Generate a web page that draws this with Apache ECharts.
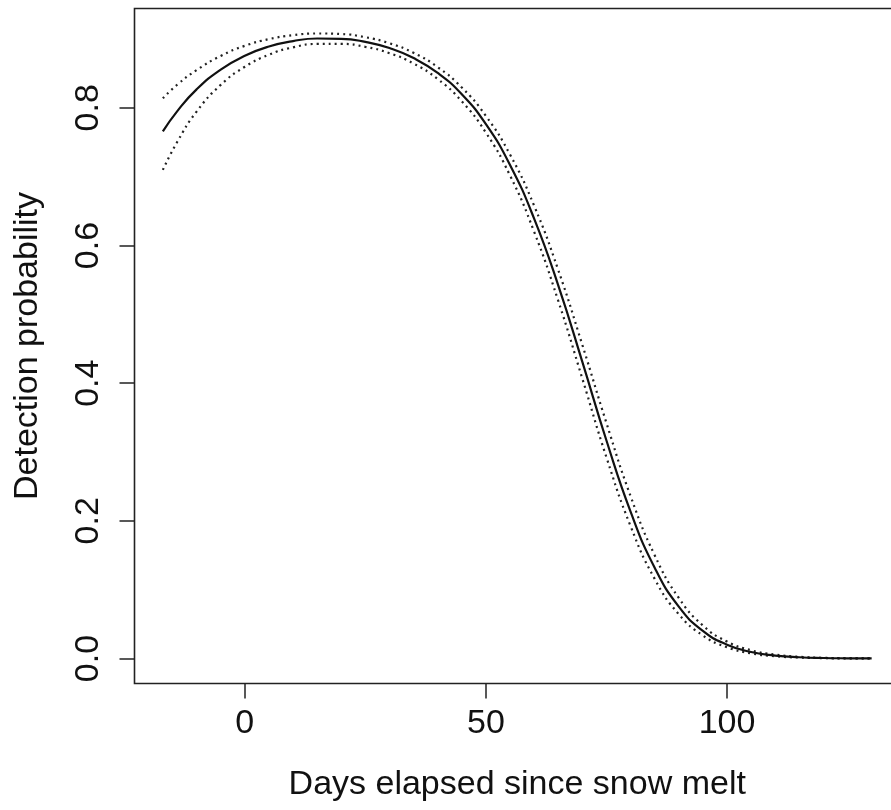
<!DOCTYPE html>
<html>
<head>
<meta charset="utf-8">
<script src="https://cdn.jsdelivr.net/npm/echarts@6/dist/echarts.min.js"></script>
<style>
  html, body { margin: 0; padding: 0; background: #ffffff; overflow: hidden; }
  #chart { width: 891px; height: 810px; }
</style>
</head>
<body>
<div id="chart"></div>
<script>
// Days elapsed since snow melt
var days = [-17, -14, -10, -5, 0, 5, 10, 15, 20, 25, 30, 35, 40, 45, 50, 55, 60, 65, 70, 75, 80, 85, 90, 95, 100, 105, 110, 115, 120, 125, 130];
// Estimated detection probability (solid line)
var detection = [0.7658, 0.7953, 0.8268, 0.8556, 0.8757, 0.8891, 0.8970, 0.9007, 0.9003, 0.8958, 0.8868, 0.8723, 0.8507, 0.8197, 0.7763, 0.7171, 0.6391, 0.5421, 0.4310, 0.3167, 0.2134, 0.1319, 0.0753, 0.0401, 0.0201, 0.0095, 0.0043, 0.00185, 0.00076, 0.0003, 0.00011];
// Upper confidence limit (dotted)
var upper = [0.8138, 0.8337, 0.8548, 0.8754, 0.8901, 0.8998, 0.9055, 0.9080, 0.9072, 0.9026, 0.8938, 0.8799, 0.8591, 0.8295, 0.7882, 0.7321, 0.6578, 0.5644, 0.4556, 0.3421, 0.2360, 0.1501, 0.0880, 0.0480, 0.0246, 0.0120, 0.0056, 0.0025, 0.0010, 0.0004, 0.00016];
// Lower confidence limit (dotted)
var lower = [0.7099, 0.7507, 0.7946, 0.8333, 0.8596, 0.8771, 0.8879, 0.8928, 0.8929, 0.8886, 0.8794, 0.8643, 0.8418, 0.8094, 0.7639, 0.7017, 0.6200, 0.5197, 0.4066, 0.2923, 0.1924, 0.1157, 0.0643, 0.0334, 0.0163, 0.0075, 0.0033, 0.0014, 0.00056, 0.00021, 0.00008];
// Tick labels
var xTicks = [0, 50, 100];
var yTicks = [0, 0.2, 0.4, 0.6, 0.8];

function pairs(ys) { return days.map(function (d, i) { return [d, ys[i]]; }); }

var FONT = 'Liberation Sans, Arial, Helvetica, sans-serif';
var INK = '#111111';

var chart = echarts.init(document.getElementById('chart'), null, { renderer: 'canvas' });
chart.setOption({
  animation: false,
  backgroundColor: '#ffffff',
  grid: {
    left: 134.5, top: 8.5, width: 765.5, height: 675,
    show: true, borderColor: '#222222', borderWidth: 1.6,
    backgroundColor: 'transparent',
    containLabel: false, outerBoundsMode: 'none'
  },
  xAxis: {
    type: 'value', min: -22.88, max: 135.88,
    name: 'Days elapsed since snow melt', nameLocation: 'middle', nameGap: 84,
    nameTextStyle: { fontFamily: FONT, fontSize: 34, color: INK },
    axisLine: { show: false, onZero: false },
    splitLine: { show: false },
    axisTick: { show: true, inside: false, length: 15, customValues: xTicks, lineStyle: { color: '#222222', width: 1.5 } },
    axisLabel: { show: true, margin: 23, customValues: xTicks, fontFamily: FONT, fontSize: 34, color: INK }
  },
  yAxis: {
    type: 'value', min: -0.0363, max: 0.9443,
    name: 'Detection probability', nameLocation: 'middle', nameGap: 90, nameRotate: 90,
    nameTextStyle: { fontFamily: FONT, fontSize: 34, color: INK },
    axisLine: { show: false, onZero: false },
    splitLine: { show: false },
    axisTick: { show: true, inside: false, length: 15, customValues: yTicks, lineStyle: { color: '#222222', width: 1.5 } },
    axisLabel: {
      show: true, margin: 29, rotate: 90, customValues: yTicks,
      fontFamily: FONT, fontSize: 34, color: INK,
      formatter: function (v) { return v.toFixed(1); }
    }
  },
  series: [
    {
      type: 'line', name: 'upper', data: pairs(upper), showSymbol: false, smooth: true, silent: true,
      lineStyle: { color: '#222222', width: 2.2, type: [2, 4] }
    },
    {
      type: 'line', name: 'lower', data: pairs(lower), showSymbol: false, smooth: true, silent: true,
      lineStyle: { color: '#222222', width: 2.2, type: [2, 4] }
    },
    {
      type: 'line', name: 'detection', data: pairs(detection), showSymbol: false, smooth: true, silent: true,
      lineStyle: { color: '#111111', width: 2.2, type: 'solid' }
    }
  ]
});
</script>
</body>
</html>
